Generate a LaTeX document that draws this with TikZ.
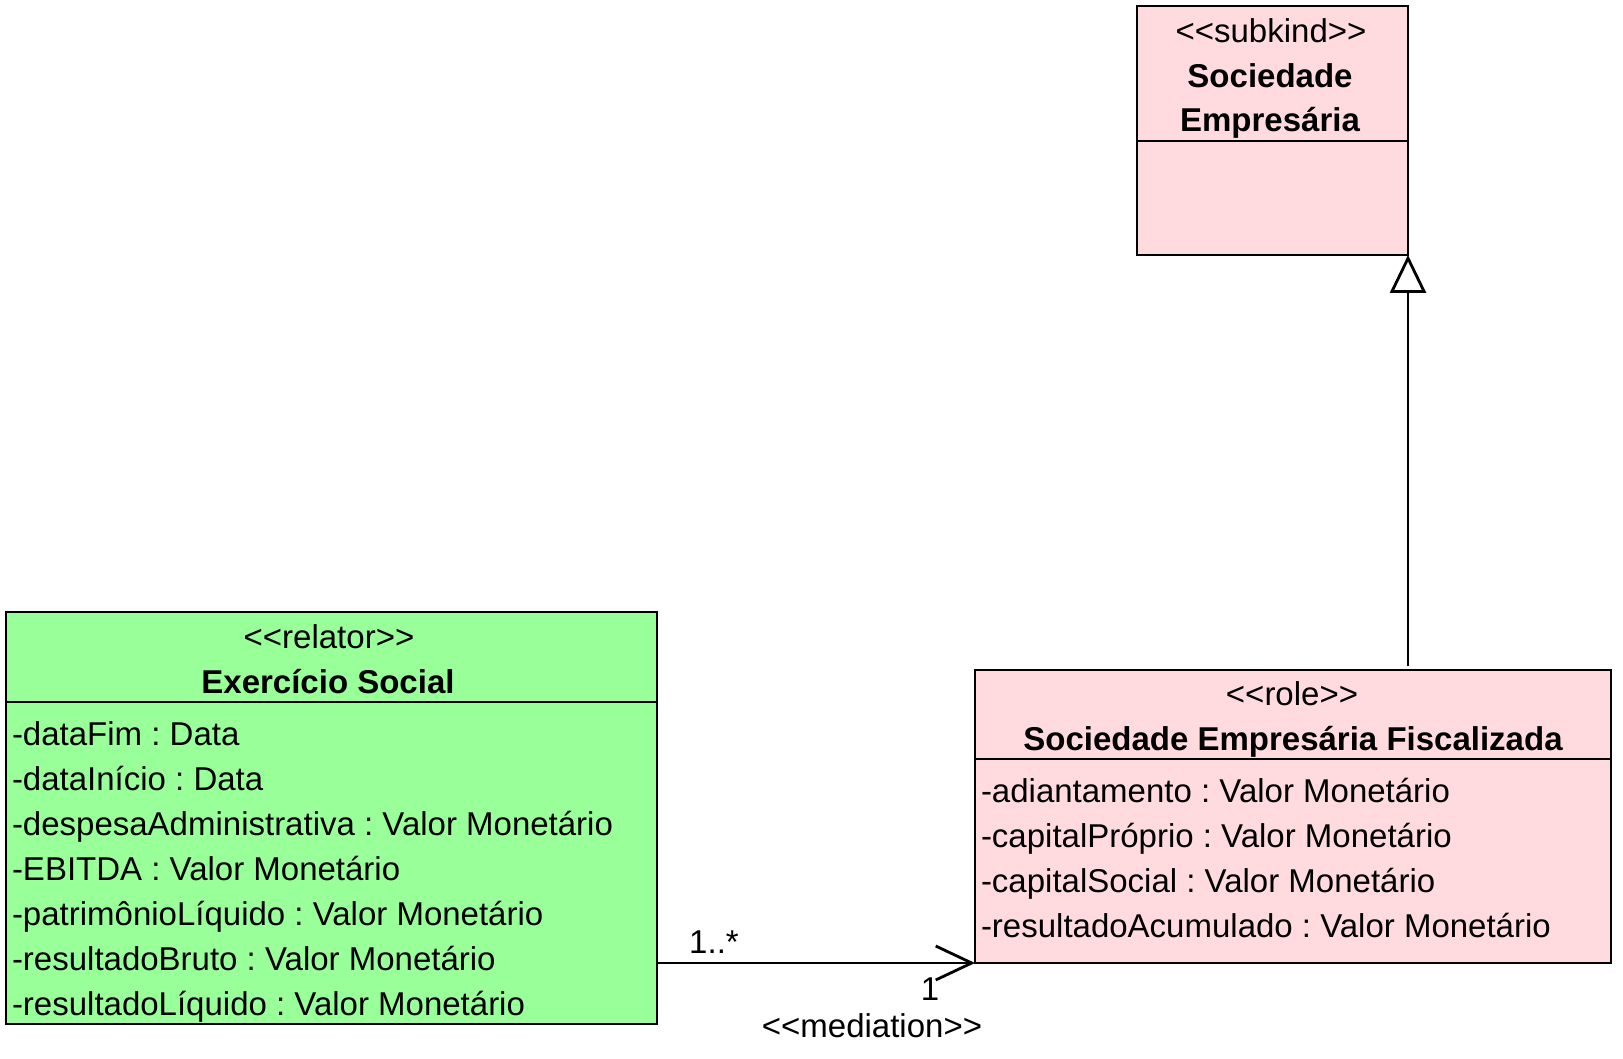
\documentclass[tikz,border=0pt]{standalone}
\usepackage{fontspec}
\setmainfont{Liberation Sans}[Ligatures=NoCommon]
\usetikzlibrary{arrows.meta}
\definecolor{relgreen}{RGB}{153,255,153}
\definecolor{rolepink}{RGB}{255,218,222}
\newcommand{\stlt}{{<}\kern0pt{<}}
\newcommand{\stgt}{{>}\kern0pt{>}}
\frenchspacing
\begin{document}
\begin{tikzpicture}[x=0.5pt,y=-0.5pt,
  every node/.style={font=\fontsize{16.5}{20}\selectfont, inner sep=0pt, outer sep=0pt},
  umlbox/.style={draw=black, line width=1.4pt, anchor=north west, inner sep=0pt, outer sep=0pt},
  divider/.style={line width=1.4pt},
  attr/.style={anchor=base west},
  ttl/.style={anchor=base, font=\fontsize{16.5}{20}\selectfont\bfseries},
  stereo/.style={anchor=base},
  conn/.style={line width=1.4pt}
]
\useasboundingbox (0,0) rectangle (1623,1059);

% Sociedade Empresaria (subkind)
\node[umlbox, fill=rolepink, minimum width=271*0.5pt, minimum height=249*0.5pt] (sub) at (1137,6) {};
\draw[divider] (1137,141) -- (1408,141);
\node[stereo] (subst) at (1271,43) {\stlt subkind\stgt};
\node[ttl] (subt1) at (1270,88) {Sociedade};
\node[ttl] (subt2) at (1270,132) {Empresária};

% Exercicio Social (relator)
\node[umlbox, fill=relgreen, minimum width=651*0.5pt, minimum height=412*0.5pt] (rel) at (6,612) {};
\draw[divider] (6,702) -- (657,702);
\node[stereo] (relst) at (329,648) {\stlt relator\stgt};
\node[ttl] (relt) at (328,693) {Exercício Social};
\node[attr] (ra1) at (12,745) {-dataFim : Data};
\node[attr] (ra2) at (12,790) {-dataInício : Data};
\node[attr] (ra3) at (12,835) {-despesaAdministrativa : Valor Monetário};
\node[attr] (ra4) at (12,880) {-EBITDA : Valor Monetário};
\node[attr] (ra5) at (12,925) {-patrimônioLíquido : Valor Monetário};
\node[attr] (ra6) at (12,970) {-resultadoBruto : Valor Monetário};
\node[attr] (ra7) at (12,1015) {-resultadoLíquido : Valor Monetário};

% Sociedade Empresaria Fiscalizada (role)
\node[umlbox, fill=rolepink, minimum width=636*0.5pt, minimum height=293*0.5pt] (role) at (975,670) {};
\draw[divider] (975,759) -- (1611,759);
\node[stereo] (rolest) at (1292,705) {\stlt role\stgt};
\node[ttl] (rolet) at (1293,750) {Sociedade Empresária Fiscalizada};
\node[attr] (oa1) at (981,802) {-adiantamento : Valor Monetário};
\node[attr] (oa2) at (981,847) {-capitalPróprio : Valor Monetário};
\node[attr] (oa3) at (981,892) {-capitalSocial : Valor Monetário};
\node[attr] (oa4) at (981,937) {-resultadoAcumulado : Valor Monetário};

% generalization
\coordinate (genstart) at (sub.south east |- 0,666);
\draw[conn, -{Triangle[open, length=19pt, width=18pt, line width=1.4pt]}] (genstart) -- (sub.south east);

% mediation
\coordinate (medstart) at (rel.east |- role.south west);
\draw[conn, -{Straight Barb[length=18pt, width=17pt, line width=1.4pt]}] (medstart) -- (role.south west);
\node[stereo] (m1) at (714,953) {1..*};
\node[stereo] (m2) at (930,1000) {1};
\node[stereo] (mst) at (872,1037) {\stlt mediation\stgt};
\end{tikzpicture}
\end{document}
